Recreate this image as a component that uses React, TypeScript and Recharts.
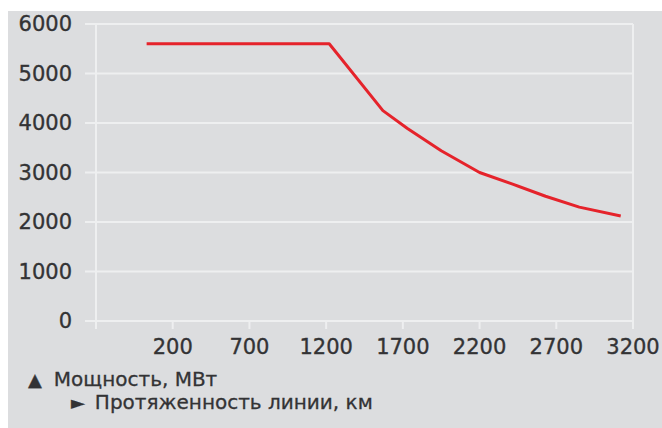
import React from 'react';
import { LineChart, Line, XAxis, YAxis, CartesianGrid, ReferenceLine } from 'recharts';

const lengthKm = [30, 1220, 1570, 1730, 1950, 2200, 2420, 2630, 2850, 3120];
const powerMW = [5600, 5600, 4250, 3890, 3440, 3000, 2760, 2520, 2300, 2120];
const xTicks = [-300, 200, 700, 1200, 1700, 2200, 2700, 3200];
const yTicks = [0, 1000, 2000, 3000, 4000, 5000, 6000];
const legendPowerMark = '▲';
const legendPower = 'Мощность, МВт';
const legendLengthMark = '►';
const legendLength = 'Протяженность линии, км';

const data = lengthKm.map((x, i) => ({ x, y: powerMW[i] }));

const BG = '#dcdddf';
const GRID = '#eeeff0';
const TEXT = '#333335';
const FONT = '"DejaVu Sans", sans-serif';
const tickStyle = { fill: TEXT, fontSize: 21, fontFamily: FONT, stroke: TEXT, strokeWidth: 0.35 };

export default function App() {
  return (
    <div style={{ position: 'fixed', left: 8, top: 11, width: 654, height: 417, background: BG, fontFamily: FONT }}>
      <LineChart width={654} height={417} data={data} margin={{ top: 13, right: 29, bottom: 67, left: 0 }}>
        <CartesianGrid stroke={GRID} strokeWidth={2} vertical={false} />
        <XAxis
          dataKey="x"
          type="number"
          domain={[-300, 3200]}
          ticks={xTicks}
          tickFormatter={(v) => (v === -300 ? '' : String(v))}
          axisLine={{ stroke: GRID, strokeWidth: 2 }}
          tickLine={{ stroke: GRID, strokeWidth: 2 }}
          tickSize={8}
          tickMargin={10}
          height={40}
          tick={tickStyle}
          allowDataOverflow
        />
        <YAxis
          type="number"
          domain={[0, 6000]}
          ticks={yTicks}
          width={88}
          axisLine={{ stroke: GRID, strokeWidth: 2 }}
          tickLine={{ stroke: GRID, strokeWidth: 2 }}
          tickSize={11}
          tickMargin={13}
          tick={tickStyle}
        />
        <ReferenceLine x={3200} stroke={GRID} strokeWidth={2} />
        <Line
          type="linear"
          dataKey="y"
          stroke="#e5232b"
          strokeWidth={3}
          strokeLinejoin="round"
          dot={false}
          isAnimationActive={false}
        />
      </LineChart>
      <div style={{ position: 'absolute', left: 20, top: 357, fontSize: 20, color: TEXT, whiteSpace: 'nowrap', lineHeight: '22px', WebkitTextStroke: '0.3px #333335' }}>
        <span style={{ fontSize: 18, marginRight: 12 }}>{legendPowerMark}</span>{legendPower}
      </div>
      <div style={{ position: 'absolute', left: 63, top: 380, fontSize: 20, color: TEXT, whiteSpace: 'nowrap', lineHeight: '22px', WebkitTextStroke: '0.3px #333335' }}>
        <span style={{ fontSize: 18, marginRight: 10 }}>{legendLengthMark}</span>{legendLength}
      </div>
    </div>
  );
}
